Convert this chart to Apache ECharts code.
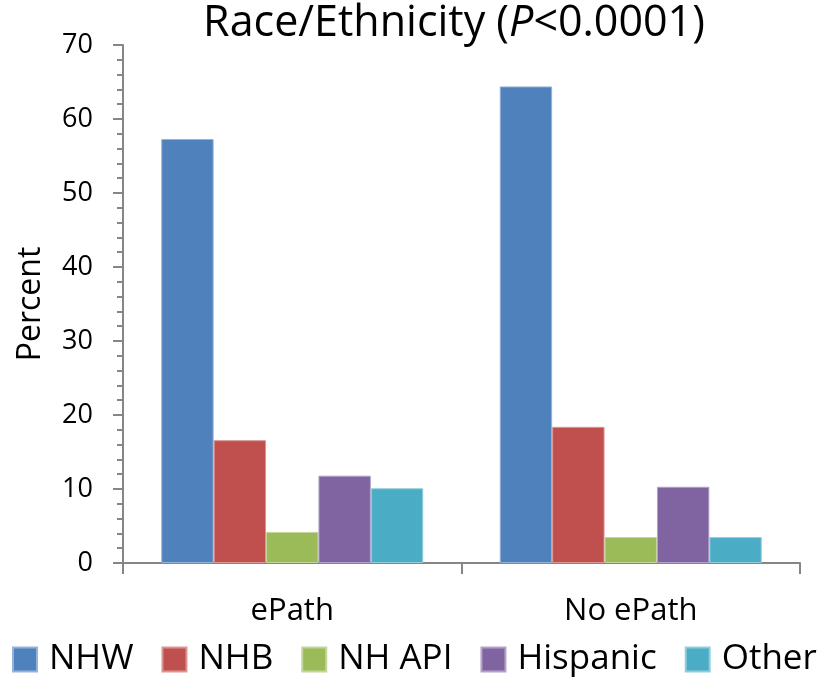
<!DOCTYPE html>
<html>
<head>
<meta charset="utf-8">
<script src="https://cdn.jsdelivr.net/npm/echarts@6/dist/echarts.min.js"></script>
<style>
  html, body { margin: 0; padding: 0; background: #fff; }
  #chart { width: 824px; height: 677px; }
</style>
</head>
<body>
<div id="chart"></div>
<script>
// Race/ethnicity distribution by ePath use (percent)
const categories = ['ePath', 'No ePath'];
const seriesNames = ['NHW', 'NHB', 'NH API', 'Hispanic', 'Other'];
const nhw = [57.3, 64.4];
const nhb = [16.6, 18.4];
const nhApi = [4.2, 3.5];
const hispanic = [11.8, 10.3];
const other = [10.1, 3.5];
const yTicks = [0, 10, 20, 30, 40, 50, 60, 70];

const seriesValues = [nhw, nhb, nhApi, hispanic, other];
const colors = ['#4F81BD', '#C0504D', '#9BBB59', '#8064A2', '#4BACC6'];
const borders = ['#95B3D7', '#D99694', '#C3D69B', '#B3A2C7', '#93CDDD'];
const font = '"Open Sans", "Noto Sans", sans-serif';
const axisGray = '#868686';

const chart = echarts.init(document.getElementById('chart'), null, { renderer: 'canvas' });

chart.setOption({
  animation: false,
  backgroundColor: '#ffffff',
  textStyle: { fontFamily: font },
  title: {
    text: '{a|Race/Ethnicity (}{i|P}{a|<0.0001)}',
    left: 454,
    textAlign: 'center',
    top: 2,
    padding: 0,
    textStyle: {
      fontWeight: 'normal',
      rich: {
        a: { fontSize: 43, color: '#000', fontFamily: font, fontWeight: 'normal' },
        i: { fontSize: 43, color: '#000', fontFamily: font, fontWeight: 'normal', fontStyle: 'italic' }
      }
    }
  },
  legend: {
    data: seriesNames,
    left: 12,
    top: 642,
    padding: 0,
    itemWidth: 24,
    itemHeight: 24,
    itemGap: 28,
    icon: 'rect',
    textStyle: { fontSize: 35, color: '#000', fontFamily: font, padding: [0, 0, 0, 7] }
  },
  grid: { left: 123, right: 24, top: 45, bottom: 114, containLabel: false },
  xAxis: {
    type: 'category',
    data: categories,
    axisLine: { lineStyle: { color: axisGray, width: 2 } },
    axisTick: { show: true, length: 11, lineStyle: { color: axisGray, width: 2 } },
    axisLabel: { fontSize: 31, color: '#000', margin: 33, fontFamily: font },
    splitLine: { show: false }
  },
  yAxis: {
    type: 'value',
    min: yTicks[0],
    max: yTicks[yTicks.length - 1],
    interval: 10,
    name: 'Percent',
    nameLocation: 'middle',
    nameGap: 76,
    nameTextStyle: { fontSize: 32, color: '#000', fontFamily: font },
    axisLine: { show: true, lineStyle: { color: axisGray, width: 2 } },
    axisTick: { show: true, length: 10, lineStyle: { color: axisGray, width: 2 } },
    minorTick: { show: true, splitNumber: 5, length: 6, lineStyle: { color: axisGray, width: 2 } },
    axisLabel: { fontSize: 27, color: '#000', margin: 30, fontFamily: font },
    splitLine: { show: false }
  },
  series: seriesNames.map((name, i) => ({
    name: name,
    type: 'bar',
    data: seriesValues[i],
    barGap: '0%',
    barCategoryGap: '22.6%',
    itemStyle: { color: colors[i], borderColor: borders[i], borderWidth: 1 }
  }))
});
</script>
</body>
</html>
